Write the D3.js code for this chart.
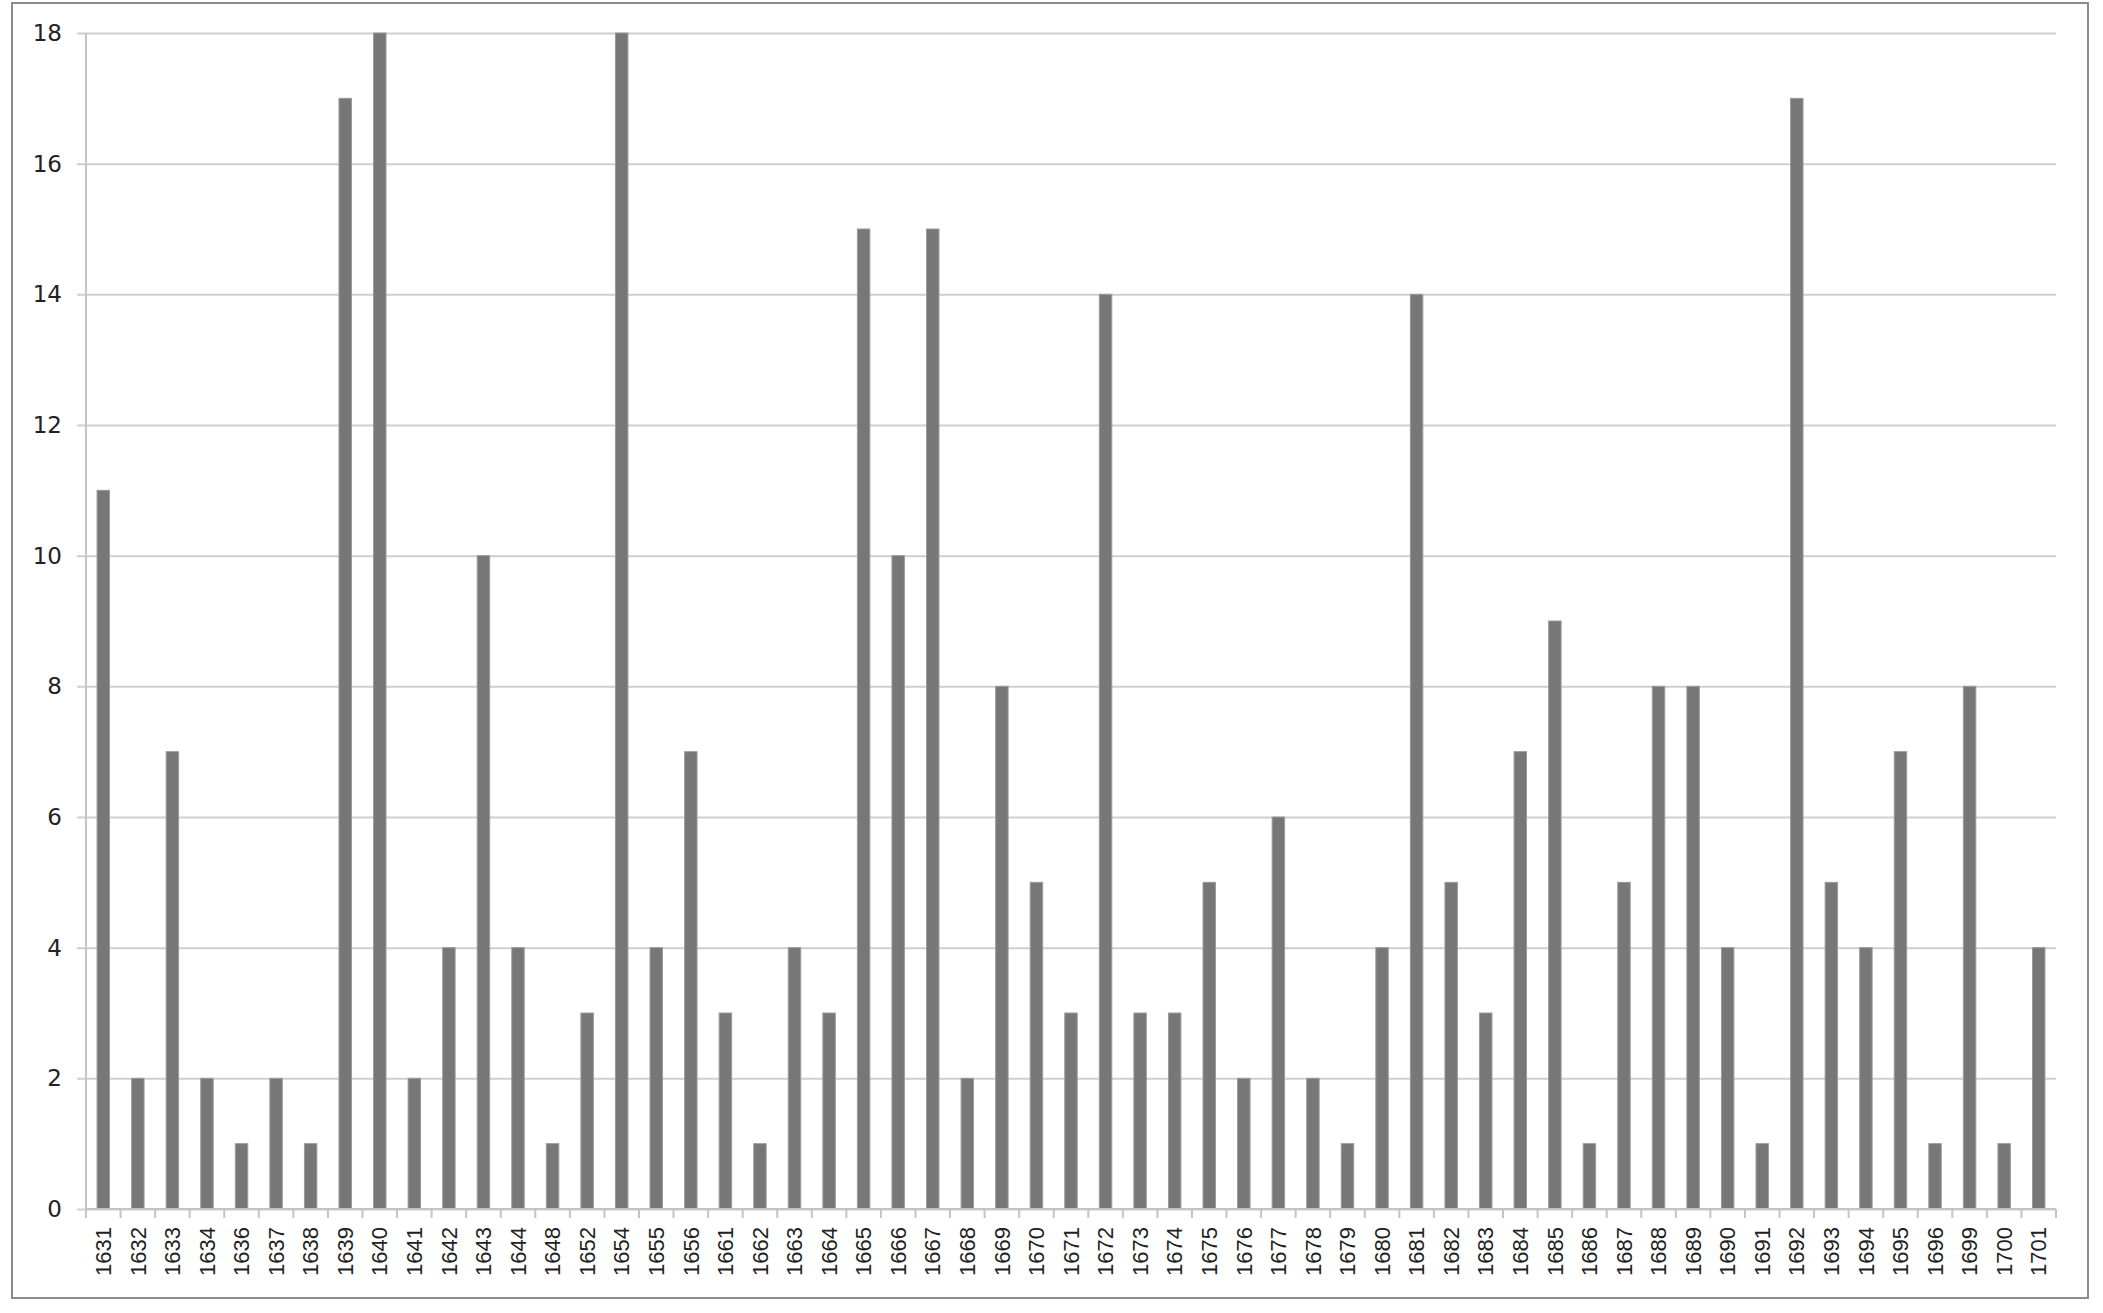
<!DOCTYPE html>
<html>
<head>
<meta charset="utf-8">
<script src="https://cdn.jsdelivr.net/npm/d3@7"></script>
<style>
  body { margin: 0; background: #fff; }
  svg { display: block; }
</style>
</head>
<body>
<script>
// years shown on the x axis (note the gaps in the sequence)
var years = ["1631","1632","1633","1634","1636","1637","1638","1639","1640","1641",
  "1642","1643","1644","1648","1652","1654","1655","1656","1661","1662",
  "1663","1664","1665","1666","1667","1668","1669","1670","1671","1672",
  "1673","1674","1675","1676","1677","1678","1679","1680","1681","1682",
  "1683","1684","1685","1686","1687","1688","1689","1690","1691","1692",
  "1693","1694","1695","1696","1699","1700","1701"];

// count for each year
var counts = [11,2,7,2,1,2,1,17,18,2,
  4,10,4,1,3,18,4,7,3,1,
  4,3,15,10,15,2,8,5,3,14,
  3,3,5,2,6,2,1,4,14,5,
  3,7,9,1,5,8,8,4,1,17,
  5,4,7,1,8,1,4];

var yTicks = [0,2,4,6,8,10,12,14,16,18];

var data = years.map(function(y, i) { return { year: y, count: counts[i] }; });

var W = 2103, H = 1313;
var margin = { top: 33, right: 47, bottom: 104, left: 86 };
var width = 2056 - margin.left;
var height = 1209 - margin.top;

var svg = d3.select("body").append("svg")
  .attr("width", W)
  .attr("height", H);

// outer chart border
svg.append("rect")
  .attr("x", 12).attr("y", 3)
  .attr("width", 2088 - 12).attr("height", 1298 - 3)
  .attr("fill", "#fff")
  .attr("stroke", "#8c8c8c")
  .attr("stroke-width", 2);

var g = svg.append("g")
  .attr("transform", "translate(" + margin.left + "," + margin.top + ")");

var x = d3.scaleBand()
  .domain(years)
  .range([0, width])
  .paddingInner(0.64)
  .paddingOuter(0.32);

var y = d3.scaleLinear()
  .domain([0, 18])
  .range([height, 0]);

// horizontal gridlines + y labels
var yAxis = g.append("g")
  .call(d3.axisLeft(y).tickValues(yTicks).tickSize(-width).tickPadding(24).tickSizeOuter(0));
yAxis.select(".domain").remove();
yAxis.selectAll(".tick line")
  .attr("x1", -9)
  .attr("stroke", "#cfcfcf")
  .attr("stroke-width", 2);
yAxis.selectAll(".tick text")
  .attr("fill", "#222")
  .style("font", "23px 'DejaVu Sans', sans-serif");

// left axis line
g.append("line")
  .attr("x1", 0).attr("x2", 0)
  .attr("y1", 0).attr("y2", height)
  .attr("stroke", "#c4c4c4")
  .attr("stroke-width", 2);

// bars
g.selectAll(".bar")
  .data(data)
  .enter().append("rect")
  .attr("class", "bar")
  .attr("x", function(d) { return x(d.year); })
  .attr("y", function(d) { return y(d.count); })
  .attr("width", x.bandwidth())
  .attr("height", function(d) { return height - y(d.count); })
  .attr("fill", "#777777")
  .attr("stroke", "#9a9a9a")
  .attr("stroke-width", 1);

// bottom axis: ticks sit between categories
var step = x.step();
var bottom = g.append("g")
  .attr("transform", "translate(0," + height + ")");
bottom.append("line")
  .attr("x1", 0).attr("x2", width)
  .attr("stroke", "#c4c4c4")
  .attr("stroke-width", 2);
bottom.selectAll(".sep")
  .data(d3.range(years.length + 1))
  .enter().append("line")
  .attr("class", "sep")
  .attr("x1", function(i) { return i * step; })
  .attr("x2", function(i) { return i * step; })
  .attr("y1", 0).attr("y2", 9)
  .attr("stroke", "#c4c4c4")
  .attr("stroke-width", 2);

bottom.selectAll(".xlabel")
  .data(years)
  .enter().append("text")
  .attr("class", "xlabel")
  .attr("transform", function(d) {
    return "translate(" + (x(d) + x.bandwidth() / 2) + ",18) rotate(-90)";
  })
  .attr("text-anchor", "end")
  .attr("dy", "0.35em")
  .attr("fill", "#222")
  .style("font", "22px 'Liberation Sans', Arial, sans-serif")
  .text(function(d) { return d; });
</script>
</body>
</html>
